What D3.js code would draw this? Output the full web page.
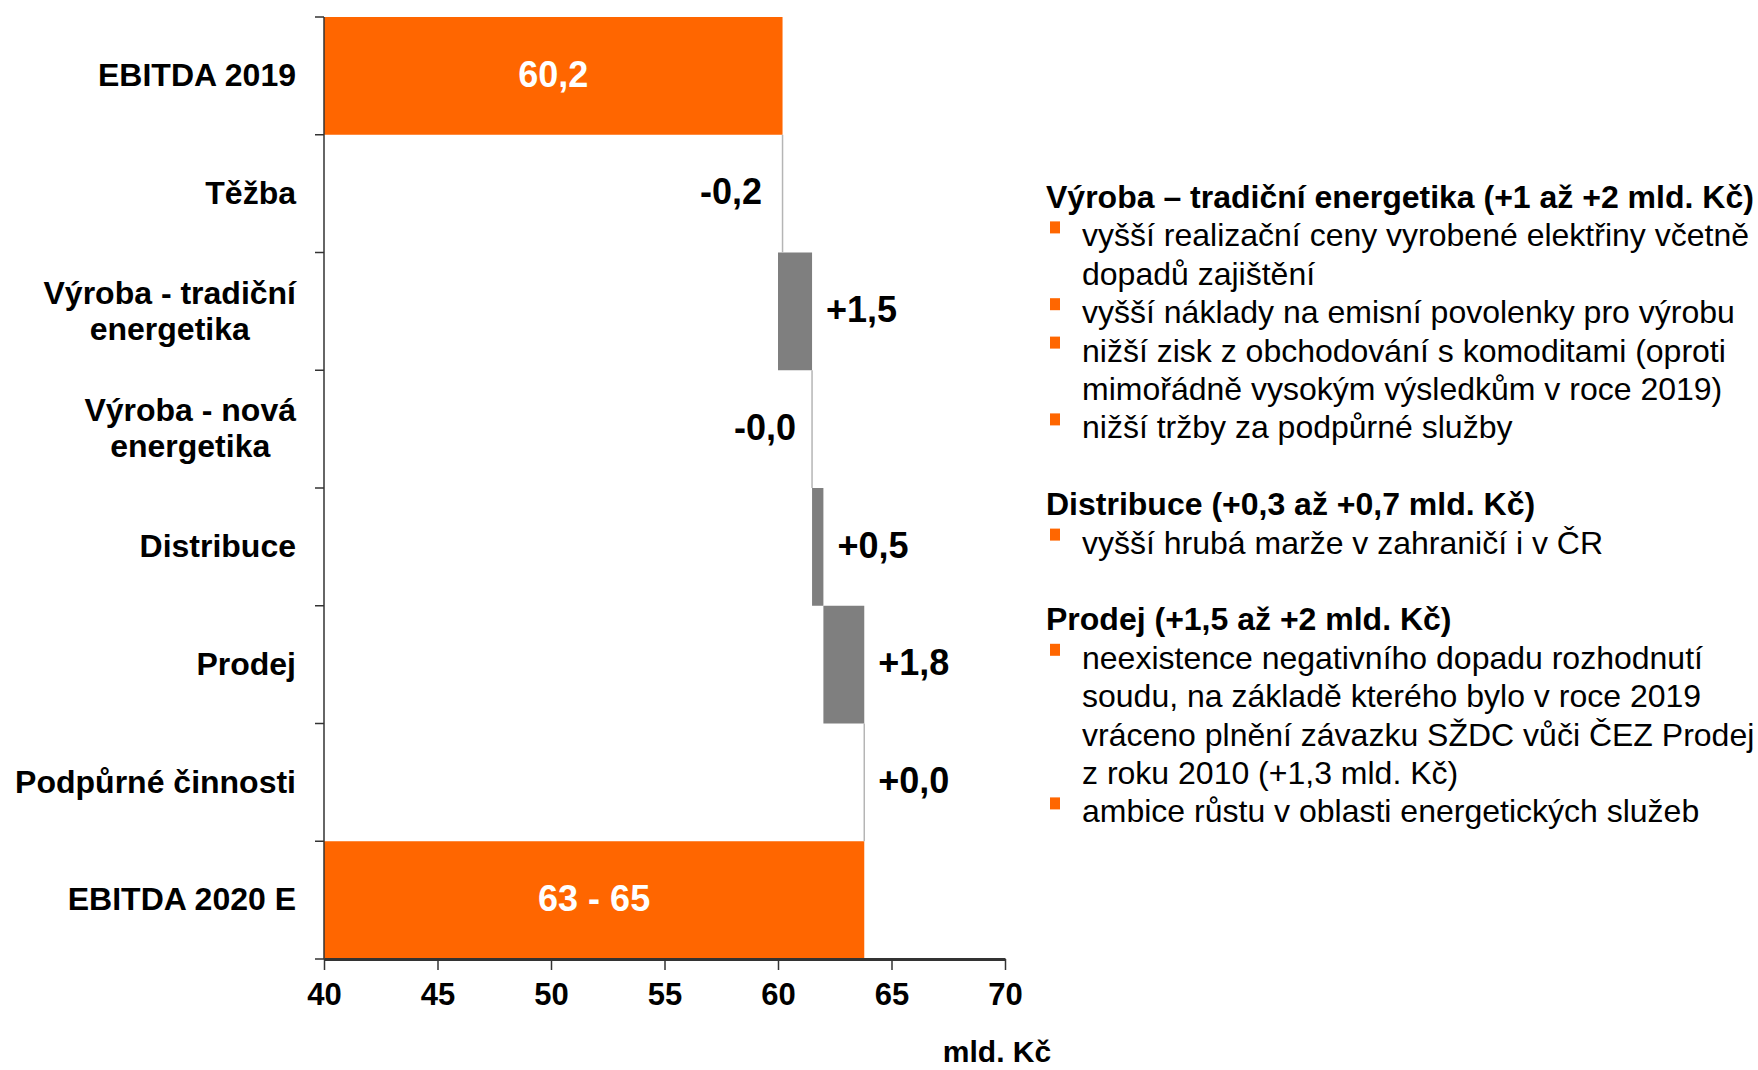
<!DOCTYPE html>
<html>
<head>
<meta charset="utf-8">
<script src="https://cdn.jsdelivr.net/npm/d3@7"></script>
<style>
  body { margin: 0; background: #fff; }
  svg { display: block; font-family: "Liberation Sans", Arial, sans-serif; }
  .axis path, .axis line { stroke: #333; }
</style>
</head>
<body>
<div id="chart"></div>
<script>
// categories (multi-line labels), waterfall values in mld. Kč
const categories = [
  ["EBITDA 2019"],
  ["Těžba"],
  ["Výroba - tradiční", "energetika"],
  ["Výroba - nová", "energetika"],
  ["Distribuce"],
  ["Prodej"],
  ["Podpůrné činnosti"],
  ["EBITDA 2020 E"]
];
const kinds = ["total", "down", "up", "down", "up", "up", "up", "total"];
const values = [60.2, 0.2, 1.5, 0.0, 0.5, 1.8, 0.0, 63.8];
const valueLabels = ["60,2", "-0,2", "+1,5", "-0,0", "+0,5", "+1,8", "+0,0", "63 - 65"];
const xTicks = [40, 45, 50, 55, 60, 65, 70];

const notes = [
  { head: "Výroba – tradiční energetika (+1 až +2 mld. Kč)", items: [
    ["vyšší realizační ceny vyrobené elektřiny včetně", "dopadů zajištění"],
    ["vyšší náklady na emisní povolenky pro výrobu"],
    ["nižší zisk z obchodování s komoditami (oproti", "mimořádně vysokým výsledkům v roce 2019)"],
    ["nižší tržby za podpůrné služby"]
  ]},
  { head: "Distribuce (+0,3 až +0,7 mld. Kč)", items: [
    ["vyšší hrubá marže v zahraničí i v ČR"]
  ]},
  { head: "Prodej (+1,5 až +2 mld. Kč)", items: [
    ["neexistence negativního dopadu rozhodnutí", "soudu, na základě kterého bylo v roce 2019",
     "vráceno plnění závazku SŽDC vůči ČEZ Prodej", "z roku 2010 (+1,3 mld. Kč)"],
    ["ambice růstu v oblasti energetických služeb"]
  ]}
];

const orange = "#ff6600";
const grey = "#7f7f7f";

const svg = d3.select("#chart").append("svg")
    .attr("width", 1758)
    .attr("height", 1070);

// build waterfall segments
let running = 0;
const rows = values.map((v, i) => {
  let start, end;
  if (kinds[i] === "total") { start = 40; end = v; running = v; }
  else if (kinds[i] === "up") { start = running; end = running + v; running = end; }
  else { start = running - v; end = running; running = start; }
  return { i, kind: kinds[i], start, end, label: valueLabels[i], cat: categories[i] };
});

const x = d3.scaleLinear().domain([40, 70]).range([324, 1005]);
const y = d3.scaleBand().domain(d3.range(categories.length)).range([17, 959]).padding(0);

// bars
svg.selectAll(".bar")
    .data(rows.filter(d => d.kind !== "down"))
    .enter()
    .append("rect")
    .attr("class", "bar")
    .attr("x", d => x(d.start))
    .attr("y", d => y(d.i))
    .attr("width", d => Math.max(0, x(d.end) - x(d.start)))
    .attr("height", y.bandwidth())
    .attr("fill", d => d.kind === "total" ? orange : grey);

// negative / zero steps drawn as thin connector lines
svg.selectAll(".step")
    .data(rows.filter(d => d.kind === "down" || (d.kind === "up" && d.end === d.start)))
    .enter()
    .append("line")
    .attr("x1", d => x(Math.max(d.start, d.end)))
    .attr("x2", d => x(Math.max(d.start, d.end)))
    .attr("y1", d => y(d.i))
    .attr("y2", d => y(d.i) + y.bandwidth())
    .attr("stroke", "#b5b5b5")
    .attr("stroke-width", 1.5);

// y axis: line with ticks at band boundaries
svg.append("line")
    .attr("x1", 324).attr("x2", 324)
    .attr("y1", y.range()[0]).attr("y2", y.range()[1])
    .attr("stroke", "#333").attr("stroke-width", 1.5);
svg.selectAll(".ytick")
    .data(d3.range(categories.length + 1))
    .enter()
    .append("line")
    .attr("x1", 315).attr("x2", 324)
    .attr("y1", d => y.range()[0] + d * y.bandwidth())
    .attr("y2", d => y.range()[0] + d * y.bandwidth())
    .attr("stroke", "#333").attr("stroke-width", 1.5);

// x axis
const xAxis = svg.append("g")
    .attr("class", "axis")
    .attr("transform", "translate(0,959)")
    .call(d3.axisBottom(x).tickValues(xTicks).tickSize(11).tickSizeOuter(0).tickPadding(13));
xAxis.select(".domain").attr("stroke", "#444").attr("stroke-width", 3);
xAxis.selectAll(".tick line").attr("stroke", "#333").attr("stroke-width", 1.5);
xAxis.selectAll(".tick text")
    .attr("font-size", 31)
    .attr("font-weight", "bold")
    .attr("fill", "#000")
    .attr("font-family", "'Liberation Sans', Arial, sans-serif");

svg.append("text")
    .attr("x", 997)
    .attr("y", 1062)
    .attr("text-anchor", "middle")
    .attr("font-size", 30)
    .attr("font-weight", "bold")
    .text("mld. Kč");

// category labels, right block edge at x=296, lines centered within block
const catG = svg.selectAll(".cat")
    .data(rows)
    .enter()
    .append("text")
    .attr("class", "cat")
    .attr("font-size", 32)
    .attr("font-weight", "bold")
    .attr("text-anchor", "middle");
catG.each(function(d) {
  const t = d3.select(this);
  const n = d.cat.length;
  const cy = y(d.i) + y.bandwidth() / 2;
  d.cat.forEach((line, k) => {
    t.append("tspan")
      .attr("y", cy + (k - (n - 1) / 2) * 36)
      .attr("dy", "0.32em")
      .text(line);
  });
  let w = 0;
  t.selectAll("tspan").each(function() { w = Math.max(w, this.getComputedTextLength()); });
  t.selectAll("tspan").attr("x", 296 - w / 2);
});

// value labels
svg.selectAll(".val")
    .data(rows)
    .enter()
    .append("text")
    .attr("class", "val")
    .attr("font-size", 36)
    .attr("font-weight", "bold")
    .attr("dy", "0.3em")
    .attr("y", d => y(d.i) + y.bandwidth() / 2)
    .attr("x", d => d.kind === "total" ? (x(d.start) + x(d.end)) / 2
                  : d.kind === "up" ? x(d.end) + 14 : x(d.start) - 16)
    .attr("text-anchor", d => d.kind === "total" ? "middle" : d.kind === "up" ? "start" : "end")
    .attr("fill", d => d.kind === "total" ? "#fff" : "#000")
    .text(d => d.label);

// commentary on the right
const lineH = 38.4;
let lineNo = 0;
const notesG = svg.append("g").attr("font-size", 32);
notes.forEach(sec => {
  notesG.append("text")
      .attr("x", 1046)
      .attr("y", 208 + lineNo * lineH)
      .attr("font-weight", "bold")
      .text(sec.head);
  lineNo++;
  sec.items.forEach(item => {
    notesG.append("rect")
        .attr("x", 1050)
        .attr("y", 208 + lineNo * lineH - 25)
        .attr("width", 10)
        .attr("height", 12)
        .attr("fill", orange);
    item.forEach(line => {
      notesG.append("text")
          .attr("x", 1082)
          .attr("y", 208 + lineNo * lineH)
          .text(line);
      lineNo++;
    });
  });
  lineNo++;
});
</script>
</body>
</html>
